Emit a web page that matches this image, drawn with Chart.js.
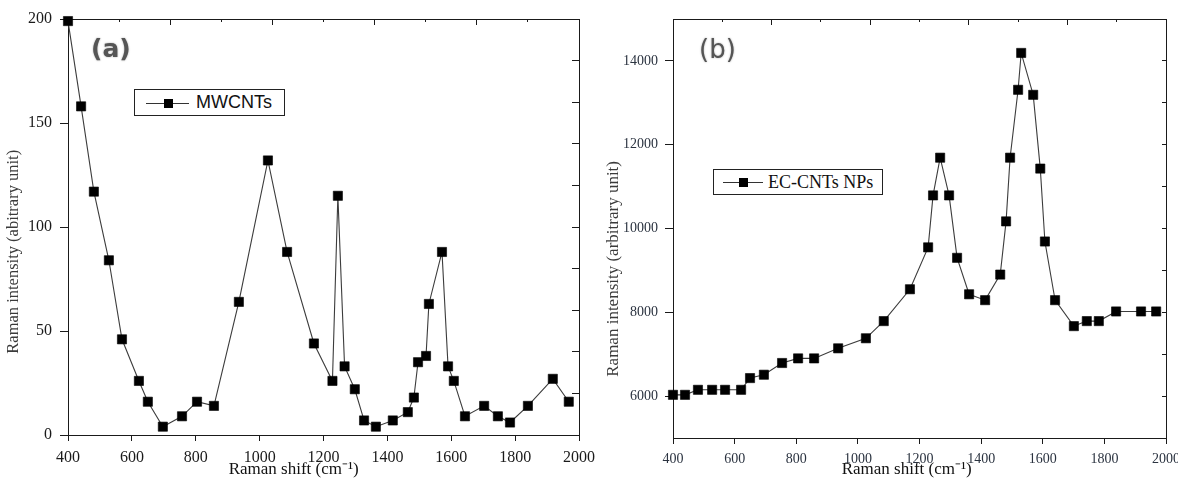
<!DOCTYPE html>
<html>
<head>
<meta charset="utf-8">
<script src="https://cdn.jsdelivr.net/npm/chart.js@4.4.1/dist/chart.umd.min.js"></script>
<style>
  body { margin: 0; background: #fff; width: 1178px; height: 480px; overflow: hidden; position: relative; }
  .panel { position: absolute; top: 0; }
  .tag { position: absolute; line-height: 1; color: #555; font-family: "DejaVu Sans", sans-serif; text-shadow: 0 0 2px #aaa; }
  .legend { position: absolute; box-sizing: border-box; border: 1px solid #222; background: #fff;
            display: flex; align-items: center; white-space: nowrap; color: #111; }
  .key { position: relative; height: 12px; flex: none; }
  .key::before { content: ''; position: absolute; left: 0; right: 0; top: 6px; border-top: 1px solid #333; }
  .key::after { content: ''; position: absolute; top: 2px; width: 9px; height: 9px; background: #000; left: calc(50% - 4px); }
</style>
</head>
<body>
<div class="panel" style="left:0"><canvas id="chart-a" width="600" height="480"></canvas></div>
<div class="panel" style="left:590px"><canvas id="chart-b" width="588" height="480"></canvas></div>

<div class="tag" style="left:91px;top:36px;font-size:25px;font-weight:bold">(a)</div>
<div class="tag" style="left:699px;top:36px;font-size:26px">(b)</div>

<div class="legend" id="legend-a" style="left:134px;top:89px;width:151px;height:27px;font:18px 'Liberation Sans',sans-serif">
  <span class="key" style="width:43px;margin:0 7px 0 11px"></span><span></span>
</div>
<div class="legend" id="legend-b" style="left:713px;top:169px;width:170px;height:26px;font:18px 'Liberation Serif',serif">
  <span class="key" style="width:40px;margin:0 5px 0 9px"></span><span></span>
</div>

<script>
// (a) MWCNTs
const mwcntShift = [400, 441, 481, 528, 569, 622, 650, 697, 757, 804, 857, 935, 1026, 1086, 1170, 1228,
    1245, 1266, 1298, 1327, 1364, 1417, 1464, 1483, 1496, 1521, 1530, 1571, 1590, 1608, 1643, 1703,
    1746, 1784, 1840, 1918, 1968];
const mwcntIntensity = [199, 158, 117, 84, 46, 26, 16, 4, 9, 16, 14, 64, 132, 88, 44, 26,
    115, 33, 22, 7, 4, 7, 11, 18, 35, 38, 63, 88, 33, 26, 9, 14,
    9, 6, 14, 27, 16];

// (b) EC-CNTs NPs
const ecShift = [400, 439, 481, 527, 569, 621, 650, 695, 754, 806, 858, 936, 1026, 1084, 1169, 1228,
    1244, 1267, 1296, 1322, 1361, 1413, 1462, 1481, 1494, 1520, 1530, 1569, 1592, 1607, 1640, 1701,
    1743, 1782, 1838, 1919, 1968];
const ecIntensity = [6030, 6030, 6150, 6150, 6150, 6150, 6430, 6510, 6790, 6900, 6900, 7140, 7380, 7790, 8550, 9550,
    10790, 11690, 10790, 9300, 8430, 8290, 8900, 10170, 11690, 13310, 14190, 13190, 11430, 9690, 8290, 7670,
    7790, 7790, 8020, 8020, 8020];

const labelA = 'MWCNTs';
const labelB = 'EC-CNTs NPs';
const xTitle = 'Raman shift (cm\u207B\u00B9)';
const yTitleA = 'Raman intensity (abitrary unit)';
const yTitleB = 'Raman intensity (arbitrary unit)';

const INK = '#1a1a1a';
const SERIF = "'Liberation Serif', 'Times New Roman', serif";

// keep the axis box a fixed size so the plot frame lands where it does in the figure
const fixSize = (w, h) => s => {
    if (w !== null) s.width = w;
    if (h !== null) s.height = h;
    s.paddingLeft = s.paddingRight = s.paddingTop = s.paddingBottom = 0;
};
// trailing no-break spaces nudge a centred title off centre
const nudge = (text, n) => text + '\u00A0'.repeat(n);
// only every `every`-th value gets a label / long tick
const isMajor = (v, every) => v % every === 0;

// tick-only axis (no labels): used for minor ticks and for the mirrored top/right frame
function tickAxis(position, min, max, step, tickLength, showBorder) {
    const horiz = position === 'top' || position === 'bottom';
    return {
        type: 'linear', position, min, max,
        afterFit: fixSize(horiz ? null : 0, horiz ? 0 : null),
        ticks: { display: false, stepSize: step },
        grid: { drawOnChartArea: false, tickLength, tickColor: INK, tickWidth: 1 },
        border: { display: !!showBorder, color: INK, width: 1 }
    };
}

function makeChart(id, cfg) {
    const ctx = document.getElementById(id).getContext('2d');
    return new Chart(ctx, {
        type: 'line',
        data: {
            datasets: [{
                label: cfg.label,
                data: cfg.xs.map((x, i) => ({ x, y: cfg.ys[i] })),
                borderColor: '#3c3c3c',
                borderWidth: 1.1,
                pointStyle: 'rect',
                pointRadius: 6.5,
                pointBackgroundColor: '#000',
                pointBorderColor: '#000',
                pointBorderWidth: 0.6,
                tension: 0,
                clip: false
            }]
        },
        options: {
            responsive: false,
            animation: false,
            events: [],
            layout: { autoPadding: false, padding: { left: 0, top: 19, right: cfg.padRight, bottom: 0 } },
            plugins: { legend: { display: false }, tooltip: { enabled: false } },
            scales: {
                x: {
                    type: 'linear', position: 'bottom', min: 400, max: 2000,
                    afterFit: fixSize(null, cfg.xHeight),
                    ticks: { stepSize: 200, color: cfg.tickColor, padding: cfg.xPad, maxRotation: 0, autoSkip: false,
                             font: { family: SERIF, size: cfg.tickSize }, callback: v => String(v) },
                    grid: { drawOnChartArea: false, tickLength: 6, tickColor: INK },
                    border: { color: INK, width: 1 },
                    title: { display: true, text: nudge(xTitle, cfg.xNudge), color: '#111', padding: 0,
                             font: { family: SERIF, size: 17, lineHeight: 1.2 } }
                },
                xMinor: tickAxis('bottom', 400, 2000, 100, 3),
                xTop: tickAxis('top', 400, 2000, 320, -6, true),
                xTopMinor: tickAxis('top', 400, 2000, 160, -3),
                y: {
                    type: 'linear', position: 'left', min: cfg.yMin, max: cfg.yMax,
                    afterFit: fixSize(cfg.yWidth, null),
                    ticks: { stepSize: cfg.yMinorStep, color: cfg.tickColor, padding: cfg.yPad, autoSkip: false,
                             font: { family: SERIF, size: cfg.tickSize },
                             callback: v => isMajor(v, cfg.yStep) &&
                                 (cfg.yLabelBounds || (v !== cfg.yMin && v !== cfg.yMax)) ? String(v) : '' },
                    grid: { drawOnChartArea: false, tickLength: 8,
                            tickColor: c => isMajor(c.tick.value, cfg.yStep) ? INK : 'rgba(0,0,0,0)' },
                    border: { color: INK, width: 1 },
                    title: { display: true, text: nudge(cfg.yTitle, cfg.yNudge), color: '#3b3b3b',
                             padding: { top: cfg.yTitlePad, bottom: 0 },
                             font: { family: SERIF, size: cfg.yTitleSize, lineHeight: 1.2 } }
                },
                yMinor: tickAxis('left', cfg.yMin, cfg.yMax, cfg.yMinorStep, 5),
                yRight: tickAxis('right', cfg.yMin, cfg.yMax, cfg.yRightStep, cfg.yRightLen, true)
            }
        }
    });
}

makeChart('chart-a', {
    label: labelA, xs: mwcntShift, ys: mwcntIntensity,
    yMin: 0, yMax: 200, yStep: 50, yMinorStep: 25, yRightStep: 20, yRightLen: -7, yLabelBounds: true,
    yWidth: 68, xHeight: 45, padRight: 21,
    tickSize: 16, tickColor: '#1a1a1a', xPad: 7, yPad: 8,
    yTitle: yTitleA, yTitleSize: 16.5, yTitlePad: 4, yNudge: 12, xNudge: 14
});

makeChart('chart-b', {
    label: labelB, xs: ecShift, ys: ecIntensity,
    yMin: 5000, yMax: 15000, yStep: 2000, yMinorStep: 1000, yRightStep: 1000, yRightLen: -4, yLabelBounds: false,
    yWidth: 83, xHeight: 42, padRight: 12,
    tickSize: 14, tickColor: '#2b3340', xPad: 7, yPad: 7,
    yTitle: yTitleB, yTitleSize: 17, yTitlePad: 13, yNudge: 19, xNudge: 6
});

document.querySelector('#legend-a span:last-child').textContent = labelA;
document.querySelector('#legend-b span:last-child').textContent = labelB;
</script>
</body>
</html>
